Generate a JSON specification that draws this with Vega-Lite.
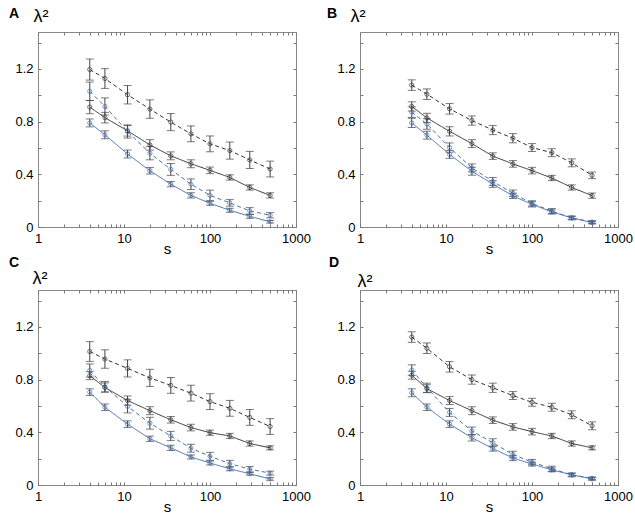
{
  "$schema": "https://vega.github.io/schema/vega-lite/v6.json",
  "padding": {"left": 8, "top": 6, "right": 2, "bottom": 0},
  "background": "white",
  "bounds": "flush",
  "columns": 2,
  "spacing": {"row": 63, "column": 64},
  "config": {
    "view": {"stroke": "#888888", "strokeWidth": 1},
    "axis": {"labelFont": "Liberation Sans", "labelFontSize": 13, "labelColor": "#000", "titleFont": "Liberation Sans", "titleColor": "#000", "titleFontWeight": "normal", "grid": false, "domain": false, "tickColor": "#777", "tickSize": -3, "labelOverlap": false, "labelFlush": false},
    "title": {"font": "Liberation Sans", "fontSize": 14, "fontWeight": "bold", "color": "#000", "anchor": "start", "frame": "group"}
  },
  "datasets": {
    "d": [
      {"p":"A","k":"bd","s":4,"v":1.195,"e":0.08},{"p":"A","k":"bd","s":6,"v":1.127,"e":0.075},{"p":"A","k":"bd","s":11,"v":1.004,"e":0.07},{"p":"A","k":"bd","s":20,"v":0.895,"e":0.07},{"p":"A","k":"bd","s":35,"v":0.796,"e":0.065},{"p":"A","k":"bd","s":60,"v":0.707,"e":0.06},{"p":"A","k":"bd","s":100,"v":0.631,"e":0.06},{"p":"A","k":"bd","s":170,"v":0.58,"e":0.065},{"p":"A","k":"bd","s":290,"v":0.509,"e":0.065},{"p":"A","k":"bd","s":500,"v":0.44,"e":0.06},
      {"p":"A","k":"bs","s":4,"v":0.91,"e":0.05},{"p":"A","k":"bs","s":6,"v":0.83,"e":0.04},{"p":"A","k":"bs","s":11,"v":0.73,"e":0.04},{"p":"A","k":"bs","s":20,"v":0.623,"e":0.04},{"p":"A","k":"bs","s":35,"v":0.54,"e":0.03},{"p":"A","k":"bs","s":60,"v":0.48,"e":0.03},{"p":"A","k":"bs","s":100,"v":0.43,"e":0.025},{"p":"A","k":"bs","s":170,"v":0.376,"e":0.02},{"p":"A","k":"bs","s":290,"v":0.3,"e":0.02},{"p":"A","k":"bs","s":500,"v":0.24,"e":0.02},
      {"p":"A","k":"ud","s":4,"v":1.03,"e":0.07},{"p":"A","k":"ud","s":6,"v":0.915,"e":0.065},{"p":"A","k":"ud","s":11,"v":0.725,"e":0.05},{"p":"A","k":"ud","s":20,"v":0.56,"e":0.05},{"p":"A","k":"ud","s":35,"v":0.437,"e":0.045},{"p":"A","k":"ud","s":60,"v":0.325,"e":0.04},{"p":"A","k":"ud","s":100,"v":0.24,"e":0.04},{"p":"A","k":"ud","s":170,"v":0.183,"e":0.025},{"p":"A","k":"ud","s":290,"v":0.122,"e":0.025},{"p":"A","k":"ud","s":500,"v":0.089,"e":0.02},
      {"p":"A","k":"us","s":4,"v":0.79,"e":0.03},{"p":"A","k":"us","s":6,"v":0.7,"e":0.03},{"p":"A","k":"us","s":11,"v":0.554,"e":0.03},{"p":"A","k":"us","s":20,"v":0.427,"e":0.025},{"p":"A","k":"us","s":35,"v":0.325,"e":0.02},{"p":"A","k":"us","s":60,"v":0.24,"e":0.02},{"p":"A","k":"us","s":100,"v":0.18,"e":0.015},{"p":"A","k":"us","s":170,"v":0.127,"e":0.015},{"p":"A","k":"us","s":290,"v":0.081,"e":0.015},{"p":"A","k":"us","s":500,"v":0.04,"e":0.01},

      {"p":"B","k":"bd","s":4,"v":1.077,"e":0.04},{"p":"B","k":"bd","s":6,"v":1.008,"e":0.04},{"p":"B","k":"bd","s":11,"v":0.897,"e":0.04},{"p":"B","k":"bd","s":20,"v":0.808,"e":0.035},{"p":"B","k":"bd","s":35,"v":0.736,"e":0.035},{"p":"B","k":"bd","s":60,"v":0.674,"e":0.035},{"p":"B","k":"bd","s":100,"v":0.603,"e":0.03},{"p":"B","k":"bd","s":170,"v":0.564,"e":0.03},{"p":"B","k":"bd","s":290,"v":0.487,"e":0.03},{"p":"B","k":"bd","s":500,"v":0.392,"e":0.025},
      {"p":"B","k":"bs","s":4,"v":0.915,"e":0.035},{"p":"B","k":"bs","s":6,"v":0.828,"e":0.035},{"p":"B","k":"bs","s":11,"v":0.726,"e":0.035},{"p":"B","k":"bs","s":20,"v":0.633,"e":0.03},{"p":"B","k":"bs","s":35,"v":0.538,"e":0.025},{"p":"B","k":"bs","s":60,"v":0.479,"e":0.025},{"p":"B","k":"bs","s":100,"v":0.428,"e":0.025},{"p":"B","k":"bs","s":170,"v":0.372,"e":0.02},{"p":"B","k":"bs","s":290,"v":0.3,"e":0.02},{"p":"B","k":"bs","s":500,"v":0.238,"e":0.02},
      {"p":"B","k":"ud","s":4,"v":0.872,"e":0.04},{"p":"B","k":"ud","s":6,"v":0.782,"e":0.04},{"p":"B","k":"ud","s":11,"v":0.603,"e":0.035},{"p":"B","k":"ud","s":20,"v":0.449,"e":0.03},{"p":"B","k":"ud","s":35,"v":0.346,"e":0.03},{"p":"B","k":"ud","s":60,"v":0.256,"e":0.025},{"p":"B","k":"ud","s":100,"v":0.179,"e":0.02},{"p":"B","k":"ud","s":170,"v":0.12,"e":0.02},{"p":"B","k":"ud","s":290,"v":0.069,"e":0.015},{"p":"B","k":"ud","s":500,"v":0.038,"e":0.01},
      {"p":"B","k":"us","s":4,"v":0.79,"e":0.035},{"p":"B","k":"us","s":6,"v":0.697,"e":0.03},{"p":"B","k":"us","s":11,"v":0.551,"e":0.03},{"p":"B","k":"us","s":20,"v":0.423,"e":0.03},{"p":"B","k":"us","s":35,"v":0.326,"e":0.025},{"p":"B","k":"us","s":60,"v":0.236,"e":0.02},{"p":"B","k":"us","s":100,"v":0.172,"e":0.02},{"p":"B","k":"us","s":170,"v":0.115,"e":0.015},{"p":"B","k":"us","s":290,"v":0.069,"e":0.01},{"p":"B","k":"us","s":500,"v":0.033,"e":0.01},

      {"p":"C","k":"bd","s":4,"v":1.013,"e":0.075},{"p":"C","k":"bd","s":6,"v":0.956,"e":0.07},{"p":"C","k":"bd","s":11,"v":0.885,"e":0.065},{"p":"C","k":"bd","s":20,"v":0.813,"e":0.065},{"p":"C","k":"bd","s":35,"v":0.756,"e":0.06},{"p":"C","k":"bd","s":60,"v":0.697,"e":0.06},{"p":"C","k":"bd","s":100,"v":0.633,"e":0.06},{"p":"C","k":"bd","s":170,"v":0.582,"e":0.06},{"p":"C","k":"bd","s":290,"v":0.513,"e":0.06},{"p":"C","k":"bd","s":500,"v":0.444,"e":0.06},
      {"p":"C","k":"bs","s":4,"v":0.83,"e":0.03},{"p":"C","k":"bs","s":6,"v":0.74,"e":0.035},{"p":"C","k":"bs","s":11,"v":0.641,"e":0.035},{"p":"C","k":"bs","s":20,"v":0.564,"e":0.03},{"p":"C","k":"bs","s":35,"v":0.495,"e":0.025},{"p":"C","k":"bs","s":60,"v":0.436,"e":0.025},{"p":"C","k":"bs","s":100,"v":0.397,"e":0.02},{"p":"C","k":"bs","s":170,"v":0.372,"e":0.02},{"p":"C","k":"bs","s":290,"v":0.315,"e":0.02},{"p":"C","k":"bs","s":500,"v":0.282,"e":0.015},
      {"p":"C","k":"ud","s":4,"v":0.869,"e":0.05},{"p":"C","k":"ud","s":6,"v":0.746,"e":0.04},{"p":"C","k":"ud","s":11,"v":0.597,"e":0.05},{"p":"C","k":"ud","s":20,"v":0.469,"e":0.045},{"p":"C","k":"ud","s":35,"v":0.372,"e":0.035},{"p":"C","k":"ud","s":60,"v":0.279,"e":0.03},{"p":"C","k":"ud","s":100,"v":0.218,"e":0.03},{"p":"C","k":"ud","s":170,"v":0.162,"e":0.025},{"p":"C","k":"ud","s":290,"v":0.12,"e":0.02},{"p":"C","k":"ud","s":500,"v":0.09,"e":0.015},
      {"p":"C","k":"us","s":4,"v":0.705,"e":0.025},{"p":"C","k":"us","s":6,"v":0.59,"e":0.025},{"p":"C","k":"us","s":11,"v":0.462,"e":0.025},{"p":"C","k":"us","s":20,"v":0.351,"e":0.02},{"p":"C","k":"us","s":35,"v":0.282,"e":0.02},{"p":"C","k":"us","s":60,"v":0.213,"e":0.015},{"p":"C","k":"us","s":100,"v":0.167,"e":0.015},{"p":"C","k":"us","s":170,"v":0.123,"e":0.015},{"p":"C","k":"us","s":290,"v":0.085,"e":0.01},{"p":"C","k":"us","s":500,"v":0.046,"e":0.01},

      {"p":"D","k":"bd","s":4,"v":1.123,"e":0.04},{"p":"D","k":"bd","s":6,"v":1.038,"e":0.04},{"p":"D","k":"bd","s":11,"v":0.897,"e":0.04},{"p":"D","k":"bd","s":20,"v":0.8,"e":0.035},{"p":"D","k":"bd","s":35,"v":0.738,"e":0.035},{"p":"D","k":"bd","s":60,"v":0.679,"e":0.03},{"p":"D","k":"bd","s":100,"v":0.628,"e":0.03},{"p":"D","k":"bd","s":170,"v":0.59,"e":0.03},{"p":"D","k":"bd","s":290,"v":0.533,"e":0.03},{"p":"D","k":"bd","s":500,"v":0.449,"e":0.03},
      {"p":"D","k":"bs","s":4,"v":0.833,"e":0.03},{"p":"D","k":"bs","s":6,"v":0.731,"e":0.03},{"p":"D","k":"bs","s":11,"v":0.641,"e":0.03},{"p":"D","k":"bs","s":20,"v":0.564,"e":0.03},{"p":"D","k":"bs","s":35,"v":0.492,"e":0.025},{"p":"D","k":"bs","s":60,"v":0.441,"e":0.025},{"p":"D","k":"bs","s":100,"v":0.405,"e":0.025},{"p":"D","k":"bs","s":170,"v":0.372,"e":0.02},{"p":"D","k":"bs","s":290,"v":0.315,"e":0.02},{"p":"D","k":"bs","s":500,"v":0.282,"e":0.015},
      {"p":"D","k":"ud","s":4,"v":0.872,"e":0.04},{"p":"D","k":"ud","s":6,"v":0.738,"e":0.035},{"p":"D","k":"ud","s":11,"v":0.551,"e":0.03},{"p":"D","k":"ud","s":20,"v":0.41,"e":0.03},{"p":"D","k":"ud","s":35,"v":0.321,"e":0.03},{"p":"D","k":"ud","s":60,"v":0.231,"e":0.025},{"p":"D","k":"ud","s":100,"v":0.174,"e":0.02},{"p":"D","k":"ud","s":170,"v":0.123,"e":0.02},{"p":"D","k":"ud","s":290,"v":0.077,"e":0.015},{"p":"D","k":"ud","s":500,"v":0.051,"e":0.01},
      {"p":"D","k":"us","s":4,"v":0.7,"e":0.03},{"p":"D","k":"us","s":6,"v":0.59,"e":0.025},{"p":"D","k":"us","s":11,"v":0.462,"e":0.025},{"p":"D","k":"us","s":20,"v":0.359,"e":0.025},{"p":"D","k":"us","s":35,"v":0.277,"e":0.02},{"p":"D","k":"us","s":60,"v":0.205,"e":0.02},{"p":"D","k":"us","s":100,"v":0.159,"e":0.015},{"p":"D","k":"us","s":170,"v":0.115,"e":0.015},{"p":"D","k":"us","s":290,"v":0.077,"e":0.01},{"p":"D","k":"us","s":500,"v":0.046,"e":0.01}
    ]
  },
  "data": {"name": "d"},
  "concat": [
    {
      "width": 258, "height": 195,
      "title": {"text": "A", "dx": -29, "offset": 0, "dy": 14},
      "transform": [{"filter": "datum.p == 'A'"}],
      "layer": [
        {"mark": {"type": "errorbar", "color": "#444", "ticks": {"size": 8, "color": "#444"}, "thickness": 1},
         "encoding": {"x": {"field": "s", "type": "quantitative", "scale": {"type": "log", "domain": [1, 1000], "nice": false}, "axis": null},
                      "y": {"field": "v", "type": "quantitative", "scale": {"domain": [0, 1.48], "nice": false, "zero": false}, "axis": null},
                      "yError": {"field": "e"}}},
        {"mark": {"type": "line", "strokeWidth": 1},
         "encoding": {"x": {"field": "s", "type": "quantitative", "scale": {"type": "log", "domain": [1, 1000], "nice": false},
                            "axis": {"orient": "bottom", "title": "s", "titleFontSize": 15, "titlePadding": -4, "labelPadding": 8, "values": [1,2,3,4,5,6,7,8,9,10,20,30,40,50,60,70,80,90,100,200,300,400,500,600,700,800,900,1000], "labelExpr": "indexof([1,10,100,1000], datum.value) >= 0 ? format(datum.value, 'd') : ''"}},
                      "y": {"field": "v", "type": "quantitative", "scale": {"domain": [0, 1.48], "nice": false, "zero": false},
                            "axis": {"orient": "left", "title": "λ²", "titleAngle": 0, "titleAlign": "left", "titleBaseline": "alphabetic", "titleX": -5, "titleY": -11, "titleFontSize": 18, "labelPadding": 8, "values": [0,0.2,0.4,0.6,0.8,1,1.2,1.4], "labelExpr": "datum.value == 0 ? '0' : (indexof([0.4,0.8,1.2], datum.value) >= 0 ? format(datum.value, '.1f') : '')"}},
                      "color": {"field": "k", "type": "nominal", "scale": {"domain": ["bd","bs","ud","us"], "range": ["#333333","#333333","#4470b0","#4470b0"]}, "legend": null},
                      "strokeDash": {"field": "k", "type": "nominal", "scale": {"domain": ["bd","bs","ud","us"], "range": [[4,3],[1,0],[4,3],[1,0]]}, "legend": null}}},
        {"mark": {"type": "point", "size": 18, "filled": false, "strokeWidth": 1},
         "encoding": {"x": {"field": "s", "type": "quantitative", "scale": {"type": "log", "domain": [1, 1000], "nice": false},
                            "axis": {"orient": "top", "title": null, "labels": false, "values": [1,2,3,4,5,6,7,8,9,10,20,30,40,50,60,70,80,90,100,200,300,400,500,600,700,800,900,1000]}},
                      "y": {"field": "v", "type": "quantitative", "scale": {"domain": [0, 1.48], "nice": false, "zero": false},
                            "axis": {"orient": "right", "title": null, "labels": false, "values": [0,0.2,0.4,0.6,0.8,1,1.2,1.4]}},
                      "color": {"field": "k", "type": "nominal", "scale": {"domain": ["bd","bs","ud","us"], "range": ["#333333","#333333","#4470b0","#4470b0"]}, "legend": null}}}
      ],
      "resolve": {"axis": {"x": "independent", "y": "independent"}}
    },
    {
      "width": 258, "height": 195,
      "title": {"text": "B", "dx": -33, "offset": 0, "dy": 14},
      "transform": [{"filter": "datum.p == 'B'"}],
      "layer": [
        {"mark": {"type": "errorbar", "color": "#444", "ticks": {"size": 8, "color": "#444"}, "thickness": 1},
         "encoding": {"x": {"field": "s", "type": "quantitative", "scale": {"type": "log", "domain": [1, 1000], "nice": false}, "axis": null},
                      "y": {"field": "v", "type": "quantitative", "scale": {"domain": [0, 1.48], "nice": false, "zero": false}, "axis": null},
                      "yError": {"field": "e"}}},
        {"mark": {"type": "line", "strokeWidth": 1},
         "encoding": {"x": {"field": "s", "type": "quantitative", "scale": {"type": "log", "domain": [1, 1000], "nice": false},
                            "axis": {"orient": "bottom", "title": "s", "titleFontSize": 15, "titlePadding": -4, "labelPadding": 8, "values": [1,2,3,4,5,6,7,8,9,10,20,30,40,50,60,70,80,90,100,200,300,400,500,600,700,800,900,1000], "labelExpr": "indexof([1,10,100,1000], datum.value) >= 0 ? format(datum.value, 'd') : ''"}},
                      "y": {"field": "v", "type": "quantitative", "scale": {"domain": [0, 1.48], "nice": false, "zero": false},
                            "axis": {"orient": "left", "title": "λ²", "titleAngle": 0, "titleAlign": "left", "titleBaseline": "alphabetic", "titleX": -10, "titleY": -11, "titleFontSize": 18, "labelPadding": 8, "values": [0,0.2,0.4,0.6,0.8,1,1.2,1.4], "labelExpr": "datum.value == 0 ? '0' : (indexof([0.4,0.8,1.2], datum.value) >= 0 ? format(datum.value, '.1f') : '')"}},
                      "color": {"field": "k", "type": "nominal", "scale": {"domain": ["bd","bs","ud","us"], "range": ["#333333","#333333","#4470b0","#4470b0"]}, "legend": null},
                      "strokeDash": {"field": "k", "type": "nominal", "scale": {"domain": ["bd","bs","ud","us"], "range": [[4,3],[1,0],[4,3],[1,0]]}, "legend": null}}},
        {"mark": {"type": "point", "size": 18, "filled": false, "strokeWidth": 1},
         "encoding": {"x": {"field": "s", "type": "quantitative", "scale": {"type": "log", "domain": [1, 1000], "nice": false},
                            "axis": {"orient": "top", "title": null, "labels": false, "values": [1,2,3,4,5,6,7,8,9,10,20,30,40,50,60,70,80,90,100,200,300,400,500,600,700,800,900,1000]}},
                      "y": {"field": "v", "type": "quantitative", "scale": {"domain": [0, 1.48], "nice": false, "zero": false},
                            "axis": {"orient": "right", "title": null, "labels": false, "values": [0,0.2,0.4,0.6,0.8,1,1.2,1.4]}},
                      "color": {"field": "k", "type": "nominal", "scale": {"domain": ["bd","bs","ud","us"], "range": ["#333333","#333333","#4470b0","#4470b0"]}, "legend": null}}}
      ],
      "resolve": {"axis": {"x": "independent", "y": "independent"}}
    },
    {
      "width": 258, "height": 195,
      "title": {"text": "C", "dx": -29, "offset": 0, "dy": 1},
      "transform": [{"filter": "datum.p == 'C'"}],
      "layer": [
        {"mark": {"type": "errorbar", "color": "#444", "ticks": {"size": 8, "color": "#444"}, "thickness": 1},
         "encoding": {"x": {"field": "s", "type": "quantitative", "scale": {"type": "log", "domain": [1, 1000], "nice": false}, "axis": null},
                      "y": {"field": "v", "type": "quantitative", "scale": {"domain": [0, 1.48], "nice": false, "zero": false}, "axis": null},
                      "yError": {"field": "e"}}},
        {"mark": {"type": "line", "strokeWidth": 1},
         "encoding": {"x": {"field": "s", "type": "quantitative", "scale": {"type": "log", "domain": [1, 1000], "nice": false},
                            "axis": {"orient": "bottom", "title": "s", "titleFontSize": 15, "titlePadding": -4, "labelPadding": 8, "values": [1,2,3,4,5,6,7,8,9,10,20,30,40,50,60,70,80,90,100,200,300,400,500,600,700,800,900,1000], "labelExpr": "indexof([1,10,100,1000], datum.value) >= 0 ? format(datum.value, 'd') : ''"}},
                      "y": {"field": "v", "type": "quantitative", "scale": {"domain": [0, 1.48], "nice": false, "zero": false},
                            "axis": {"orient": "left", "title": "λ²", "titleAngle": 0, "titleAlign": "left", "titleBaseline": "alphabetic", "titleX": -6, "titleY": -7, "titleFontSize": 18, "labelPadding": 8, "values": [0,0.2,0.4,0.6,0.8,1,1.2,1.4], "labelExpr": "datum.value == 0 ? '0' : (indexof([0.4,0.8,1.2], datum.value) >= 0 ? format(datum.value, '.1f') : '')"}},
                      "color": {"field": "k", "type": "nominal", "scale": {"domain": ["bd","bs","ud","us"], "range": ["#333333","#333333","#4470b0","#4470b0"]}, "legend": null},
                      "strokeDash": {"field": "k", "type": "nominal", "scale": {"domain": ["bd","bs","ud","us"], "range": [[4,3],[1,0],[4,3],[1,0]]}, "legend": null}}},
        {"mark": {"type": "point", "size": 18, "filled": false, "strokeWidth": 1},
         "encoding": {"x": {"field": "s", "type": "quantitative", "scale": {"type": "log", "domain": [1, 1000], "nice": false},
                            "axis": {"orient": "top", "title": null, "labels": false, "values": [1,2,3,4,5,6,7,8,9,10,20,30,40,50,60,70,80,90,100,200,300,400,500,600,700,800,900,1000]}},
                      "y": {"field": "v", "type": "quantitative", "scale": {"domain": [0, 1.48], "nice": false, "zero": false},
                            "axis": {"orient": "right", "title": null, "labels": false, "values": [0,0.2,0.4,0.6,0.8,1,1.2,1.4]}},
                      "color": {"field": "k", "type": "nominal", "scale": {"domain": ["bd","bs","ud","us"], "range": ["#333333","#333333","#4470b0","#4470b0"]}, "legend": null}}}
      ],
      "resolve": {"axis": {"x": "independent", "y": "independent"}}
    },
    {
      "width": 258, "height": 195,
      "title": {"text": "D", "dx": -31, "offset": 0, "dy": -2},
      "transform": [{"filter": "datum.p == 'D'"}],
      "layer": [
        {"mark": {"type": "errorbar", "color": "#444", "ticks": {"size": 8, "color": "#444"}, "thickness": 1},
         "encoding": {"x": {"field": "s", "type": "quantitative", "scale": {"type": "log", "domain": [1, 1000], "nice": false}, "axis": null},
                      "y": {"field": "v", "type": "quantitative", "scale": {"domain": [0, 1.48], "nice": false, "zero": false}, "axis": null},
                      "yError": {"field": "e"}}},
        {"mark": {"type": "line", "strokeWidth": 1},
         "encoding": {"x": {"field": "s", "type": "quantitative", "scale": {"type": "log", "domain": [1, 1000], "nice": false},
                            "axis": {"orient": "bottom", "title": "s", "titleFontSize": 15, "titlePadding": -4, "labelPadding": 8, "values": [1,2,3,4,5,6,7,8,9,10,20,30,40,50,60,70,80,90,100,200,300,400,500,600,700,800,900,1000], "labelExpr": "indexof([1,10,100,1000], datum.value) >= 0 ? format(datum.value, 'd') : ''"}},
                      "y": {"field": "v", "type": "quantitative", "scale": {"domain": [0, 1.48], "nice": false, "zero": false},
                            "axis": {"orient": "left", "title": "λ²", "titleAngle": 0, "titleAlign": "left", "titleBaseline": "alphabetic", "titleX": -3, "titleY": -4, "titleFontSize": 18, "labelPadding": 8, "values": [0,0.2,0.4,0.6,0.8,1,1.2,1.4], "labelExpr": "datum.value == 0 ? '0' : (indexof([0.4,0.8,1.2], datum.value) >= 0 ? format(datum.value, '.1f') : '')"}},
                      "color": {"field": "k", "type": "nominal", "scale": {"domain": ["bd","bs","ud","us"], "range": ["#333333","#333333","#4470b0","#4470b0"]}, "legend": null},
                      "strokeDash": {"field": "k", "type": "nominal", "scale": {"domain": ["bd","bs","ud","us"], "range": [[4,3],[1,0],[4,3],[1,0]]}, "legend": null}}},
        {"mark": {"type": "point", "size": 18, "filled": false, "strokeWidth": 1},
         "encoding": {"x": {"field": "s", "type": "quantitative", "scale": {"type": "log", "domain": [1, 1000], "nice": false},
                            "axis": {"orient": "top", "title": null, "labels": false, "values": [1,2,3,4,5,6,7,8,9,10,20,30,40,50,60,70,80,90,100,200,300,400,500,600,700,800,900,1000]}},
                      "y": {"field": "v", "type": "quantitative", "scale": {"domain": [0, 1.48], "nice": false, "zero": false},
                            "axis": {"orient": "right", "title": null, "labels": false, "values": [0,0.2,0.4,0.6,0.8,1,1.2,1.4]}},
                      "color": {"field": "k", "type": "nominal", "scale": {"domain": ["bd","bs","ud","us"], "range": ["#333333","#333333","#4470b0","#4470b0"]}, "legend": null}}}
      ],
      "resolve": {"axis": {"x": "independent", "y": "independent"}}
    }
  ]
}
